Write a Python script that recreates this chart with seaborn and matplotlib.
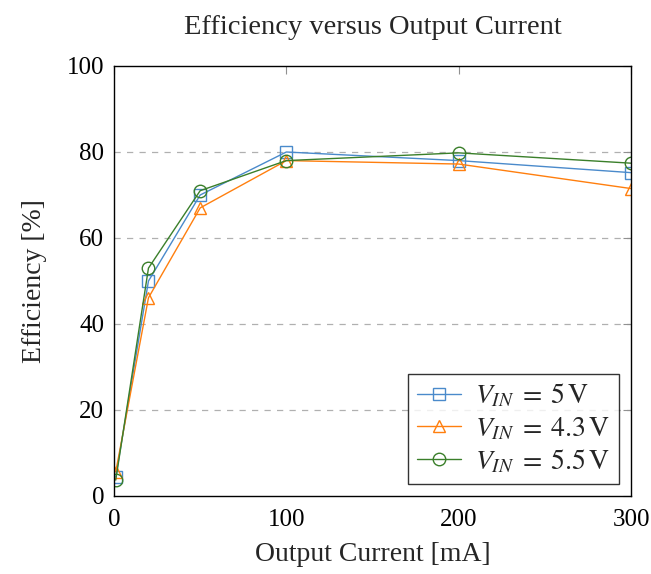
import matplotlib
matplotlib.use("Agg")
import matplotlib.pyplot as plt
import seaborn as sns
import pandas as pd

current_ma = [1, 20, 50, 100, 200, 300]
eff_5v = [4.4, 50, 70, 80, 78, 75.2]
eff_4v3 = [5.6, 46.1, 67, 78, 77.2, 71.5]
eff_5v5 = [3.7, 53, 71, 78, 79.8, 77.4]
labels = [r"$V_{IN}\;=\;5\,\mathrm{V}$", r"$V_{IN}\;=\;4.3\,\mathrm{V}$", r"$V_{IN}\;=\;5.5\,\mathrm{V}$"]
x_ticks = [0, 100, 200, 300]
y_ticks = [0, 20, 40, 60, 80, 100]

sns.set_style("white")
plt.rcParams["font.family"] = ["Liberation Serif", "DejaVu Serif"]
plt.rcParams["mathtext.fontset"] = "stix"

fig = plt.figure(figsize=(6.51, 5.74), dpi=100)
ax = fig.add_axes([114/651, 1-496/574, (631-114)/651, (496-66)/574])

series = [
    (eff_5v, "#4a8acb", "s", labels[0]),
    (eff_4v3, "#ff7f0e", "^", labels[1]),
    (eff_5v5, "#3a7f2a", "o", labels[2]),
]
for vals, col, mk, lab in series:
    df = pd.DataFrame({"x": current_ma, "y": vals})
    sns.lineplot(data=df, x="x", y="y", ax=ax, color=col, marker=mk,
                 markersize=9, markerfacecolor="none", markeredgecolor=col,
                 markeredgewidth=1.0, linewidth=1.0, label=lab)

ax.set_xlim(0, 300)
ax.set_ylim(0, 100)
ax.set_xticks(x_ticks)
ax.set_yticks(y_ticks)
for yv in [20, 40, 60, 80]:
    ax.axhline(yv, color="#b0b0b0", linestyle=(0, (5, 5)), linewidth=0.9, zorder=0)
ax.tick_params(direction="in", length=6, width=0.8, color="#909090",
               labelsize=18, top=True, right=True, labelcolor="black")
ax.tick_params(axis="x", pad=9)
ax.tick_params(axis="y", pad=7)
for s in ax.spines.values():
    s.set_color("black")
    s.set_linewidth(1.0)
ax.set_xlabel("Output Current [mA]", fontsize=20, labelpad=8)
ax.set_ylabel("Efficiency [%]", fontsize=20, labelpad=14)
ax.set_title("Efficiency versus Output Current", fontsize=20.5, pad=23)

leg = ax.legend(loc="lower right", fontsize=20, frameon=True, fancybox=False,
                edgecolor="black", borderaxespad=0.45, handlelength=1.6,
                labelspacing=0.2, borderpad=0.3, handletextpad=0.5)
leg.get_frame().set_linewidth(1.0)

fig.savefig("out.png", dpi=100)
